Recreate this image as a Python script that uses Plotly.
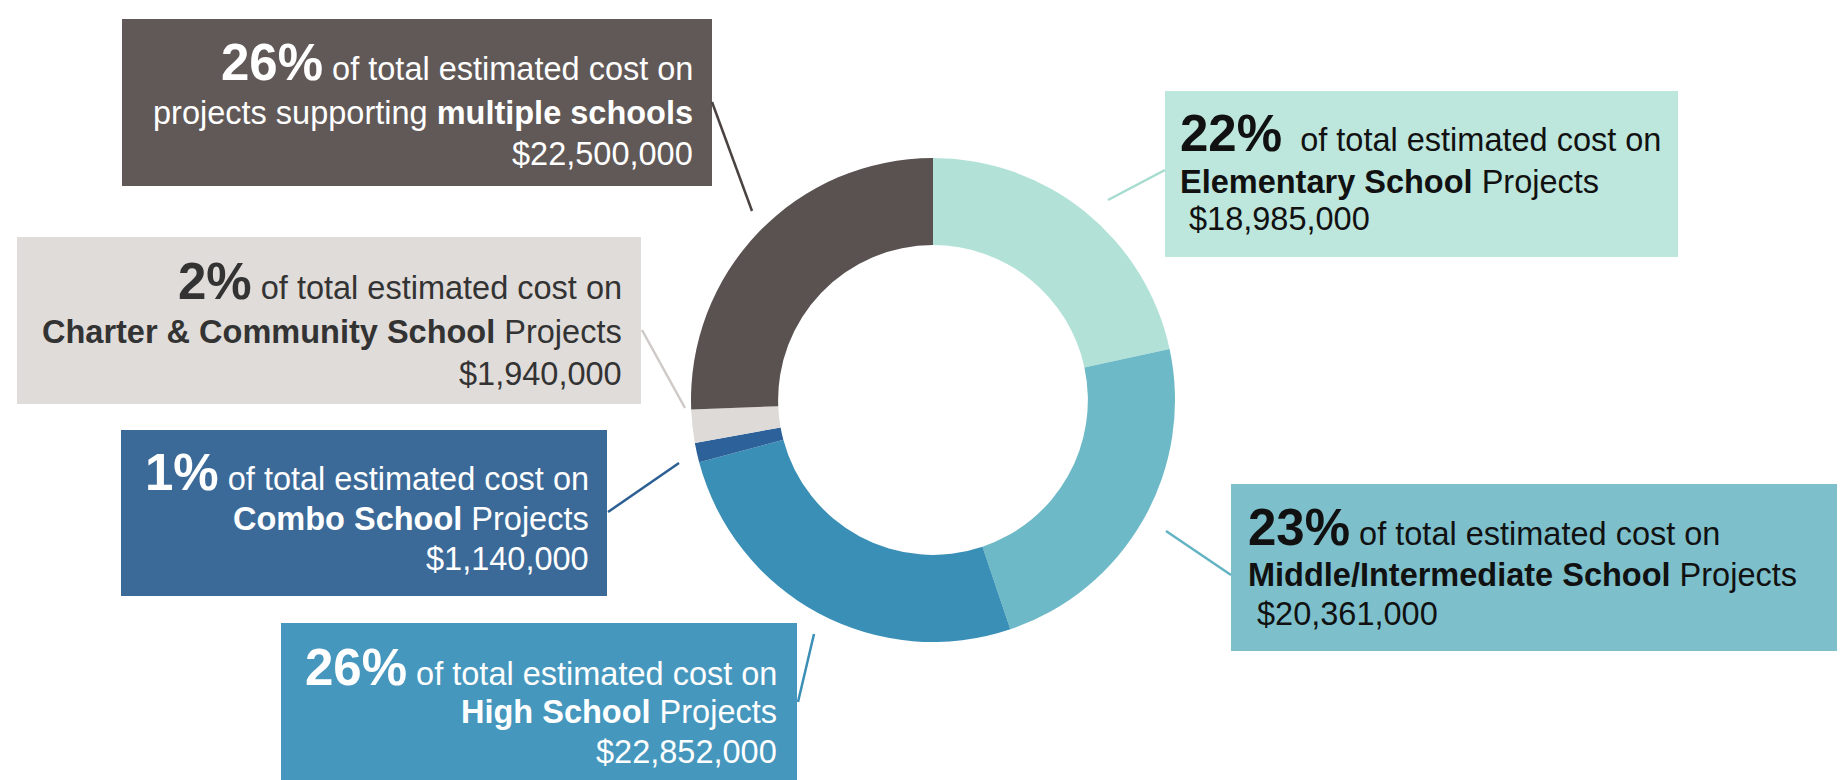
import plotly.graph_objects as go

# ---------------- data ----------------
categories = ["Elementary School", "Middle/Intermediate School", "High School",
              "Combo School", "Charter & Community School", "multiple schools"]
values = [18985000, 20361000, 22852000, 1140000, 1940000, 22500000]
slice_colors = ["#b2e2d7", "#6db9c7", "#3a8fb6", "#2c619a", "#dedad7", "#5a5250"]
box_colors = ["#bde6dc", "#7dc0cc", "#4697bd", "#3b6a98", "#e0dcda", "#615957"]
line_colors = ["#a6dbcf", "#62b3c3", "#3a8fb6", "#2c5f93", "#cfcac7", "#4a4341"]
text_colors = ["#111111", "#111111", "#ffffff", "#ffffff", "#333333", "#ffffff"]

W, H = 1845, 780
FONT = "Liberation Sans, Arial, Helvetica, sans-serif"
S_TXT = 32.5
S_PCT = 51

def px(x):
    return x / W

def py(y):
    return 1 - y / H

total = sum(values)
pcts = [round(v / total * 100) for v in values]

# layout geometry (pixels)
cx, cy, r = 925, 392, 242
boxes = [
    (1157, 83, 1670, 249),
    (1223, 476, 1836, 643),
    (273, 615, 789, 780),
    (113, 422, 599, 588),
    (9, 229, 633, 396),
    (114, 11, 704, 178),
]
text_x = [1171, 1239, 770, 582, 615, 686]
text_side = ["left", "left", "right", "right", "right", "right"]
baselines = [(143, 185, 222), (537, 578, 617), (677, 715, 755),
             (482, 522, 562), (291, 335, 377), (72, 116, 157)]
leaders = [
    ((1100, 192), (1157, 162)),
    ((1158, 523), (1223, 567)),
    ((790, 694), (806, 626)),
    ((600, 504), (671, 455)),
    ((634, 322), (677, 400)),
    ((704, 94), (744, 203)),
]

fig = go.Figure()
fig.add_trace(go.Pie(
    labels=categories, values=values, sort=False, direction="clockwise",
    rotation=0, hole=0.64, textinfo="none", showlegend=False,
    marker=dict(colors=slice_colors, line=dict(width=0)),
    domain=dict(x=[px(cx - r), px(cx + r)], y=[py(cy + r), py(cy - r)]),
))

shapes = []
annotations = []
for i, cat in enumerate(categories):
    x0, y0, x1, y1 = boxes[i]
    shapes.append(dict(type="rect", xref="paper", yref="paper",
                       x0=px(x0), x1=px(x1), y0=py(y1), y1=py(y0),
                       fillcolor=box_colors[i], line=dict(width=0), layer="below"))
    (lx0, ly0), (lx1, ly1) = leaders[i]
    shapes.append(dict(type="line", xref="paper", yref="paper",
                       x0=px(lx0), y0=py(ly0), x1=px(lx1), y1=py(ly1),
                       line=dict(color=line_colors[i], width=2.5)))
    gap = "&nbsp;&nbsp;" if i == 0 else " "
    line1 = (f"<span style='font-size:{S_PCT}px'><b>{pcts[i]}%</b></span>"
             f"{gap}of total estimated cost on")
    if cat == "multiple schools":
        line2 = "projects supporting <b>multiple schools</b>"
    else:
        line2 = f"<b>{cat.replace('&', '&amp;')}</b> Projects"
    lead = " " if text_side[i] == "left" else ""
    line3 = f"{lead}${values[i]:,}"
    sizes = [S_PCT, S_TXT, S_TXT]
    for j, t in enumerate([line1, line2, line3]):
        yc = baselines[i][j] - 0.347 * sizes[j]
        annotations.append(dict(
            text=t, xref="paper", yref="paper", x=px(text_x[i]), y=py(yc),
            xanchor=text_side[i], yanchor="middle", showarrow=False,
            borderpad=0, align=text_side[i],
            font=dict(family=FONT, size=S_TXT, color=text_colors[i]),
        ))

fig.update_layout(
    width=W, height=H, margin=dict(l=0, r=0, t=0, b=0),
    paper_bgcolor="white", plot_bgcolor="white",
    shapes=shapes, annotations=annotations, showlegend=False,
)
fig.write_html("out.html")
